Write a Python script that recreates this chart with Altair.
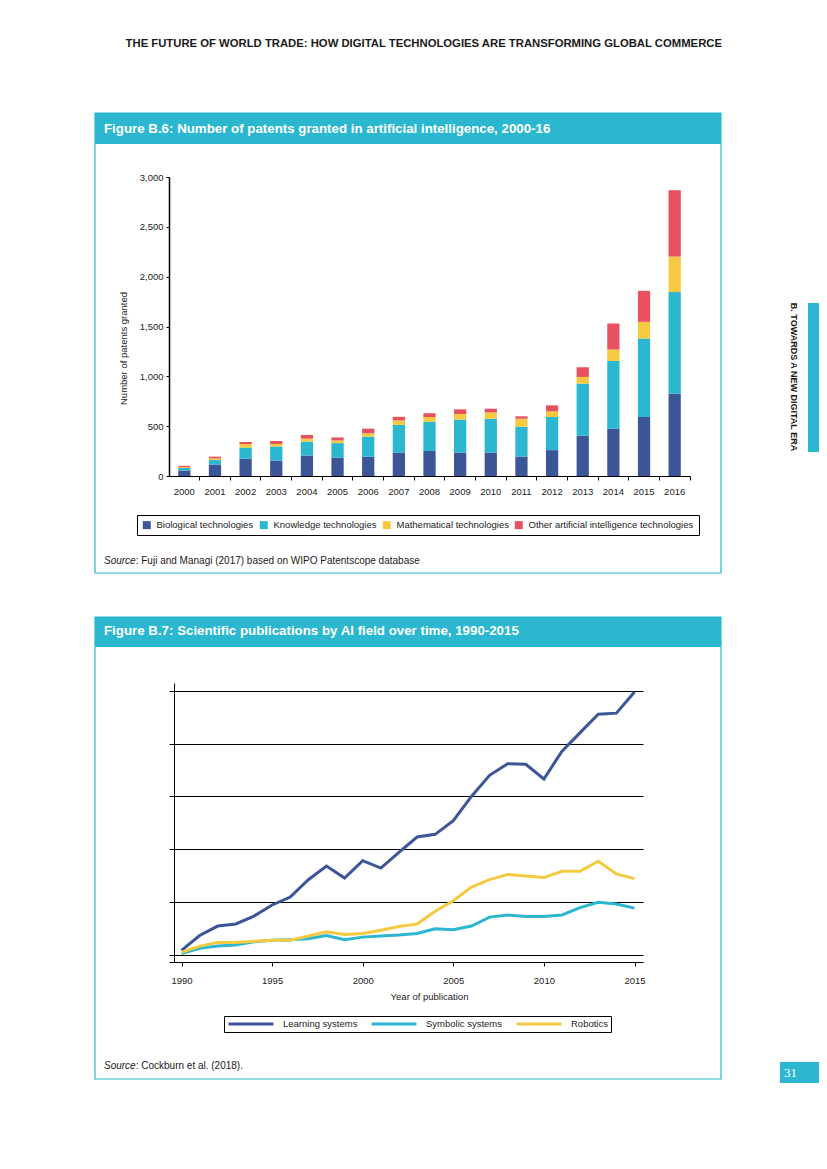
import altair as alt
import pandas as pd

# ---------------- data ----------------
years = [str(y) for y in range(2000, 2017)]
patent_types = ["Biological technologies", "Knowledge technologies",
                "Mathematical technologies", "Other artificial intelligence technologies"]
biological = [55, 115, 175, 155, 205, 185, 195, 235, 250, 235, 235, 195, 260, 405, 475, 593, 824]
knowledge = [25, 45, 110, 140, 140, 145, 200, 278, 295, 330, 340, 300, 332, 522, 680, 786, 1021]
mathematical = [10, 17, 36, 26, 30, 27, 34, 44, 47, 57, 63, 80, 57, 67, 114, 168, 358]
other_ai = [12, 17, 20, 31, 37, 30, 46, 37, 37, 47, 37, 24, 60, 97, 261, 311, 663]
y_ticks_1 = [0, 500, 1000, 1500, 2000, 2500, 3000]

pub_years = list(range(1990, 2016))
series_names = ["Learning systems", "Symbolic systems", "Robotics"]
learning = [0.08, 0.36, 0.54, 0.58, 0.73, 0.94, 1.09, 1.42, 1.68, 1.45, 1.78, 1.64, 1.94,
            2.23, 2.28, 2.54, 3.00, 3.40, 3.62, 3.61, 3.33, 3.86, 4.21, 4.56, 4.58, 4.98]
symbolic = [0.02, 0.12, 0.16, 0.18, 0.24, 0.27, 0.28, 0.30, 0.36, 0.28, 0.33, 0.35, 0.37,
            0.40, 0.49, 0.47, 0.54, 0.71, 0.75, 0.72, 0.72, 0.75, 0.89, 0.99, 0.96, 0.88]
robotics = [0.04, 0.16, 0.23, 0.23, 0.25, 0.27, 0.27, 0.35, 0.43, 0.38, 0.40, 0.46, 0.53,
            0.58, 0.82, 1.02, 1.28, 1.42, 1.52, 1.49, 1.46, 1.58, 1.58, 1.77, 1.53, 1.44]
x_ticks_2 = [1990, 1995, 2000, 2005, 2010, 2015]
y_ticks_2 = [0, 1, 2, 3, 4, 5]

# ---------------- tables ----------------
rows = []
for i, t in enumerate(patent_types):
    vals = [biological, knowledge, mathematical, other_ai][i]
    for y, v in zip(years, vals):
        rows.append({"year": y, "type": t, "count": v, "idx": i})
patents = pd.DataFrame(rows)

prow = []
for name, vals in zip(series_names, [learning, symbolic, robotics]):
    for y, v in zip(pub_years, vals):
        prow.append({"year": y, "series": name, "value": v})
pubs = pd.DataFrame(prow)

deco = pd.DataFrame({"k": [0]})

FONT = "Liberation Sans"
TEAL = "#2ab7cf"
BLUE = "#3b5596"
YELLOW = "#f5ca40"
RED = "#e8515f"


def rect(x, x2, y, y2, **kw):
    return alt.Chart(deco).mark_rect(**kw).encode(
        x=alt.value(x), x2=alt.value(x2), y=alt.value(y), y2=alt.value(y2))


def text(x, y, s, **kw):
    opts = dict(font=FONT, baseline="middle", align="left", color="#1a1a1a")
    opts.update(kw)
    return alt.Chart(deco).mark_text(text=s, **opts).encode(x=alt.value(x), y=alt.value(y))


# ---------------- figure B.6 ----------------
W1, H1 = 521, 299
bars = alt.Chart(patents).mark_bar().encode(
    x=alt.X("year:O", scale=alt.Scale(paddingInner=0.6, paddingOuter=0.3),
            axis=alt.Axis(title=None, labelAngle=0, bandPosition=1.75, tickSize=4,
                          labelPadding=6, labelFontSize=9.5, domainWidth=1.2)),
    y=alt.Y("count:Q", stack="zero", scale=alt.Scale(domain=[0, 3000], nice=False),
            axis=alt.Axis(values=y_ticks_1, format=",.0f", grid=False, tickSize=3, labelPadding=3,
                          labelFontSize=9.5, domainWidth=1.5,
                          title="Number of patents granted", titleX=-46, titleY=171,
                          titleBaseline="middle", titleFontSize=9.5, titleFontWeight="normal")),
    color=alt.Color("type:N", scale=alt.Scale(domain=patent_types, range=[BLUE, TEAL, YELLOW, RED]),
                    legend=alt.Legend(title=None, orient="none", legendX=-32, legendY=338,
                                      direction="horizontal", symbolType="square", symbolSize=64,
                                      symbolStrokeWidth=0, labelFontSize=9.5, labelFont=FONT,
                                      labelColor="#222222", labelOffset=5, columnPadding=5,
                                      labelLimit=400, padding=5, strokeColor="black")),
    order=alt.Order("idx:Q"),
)

chart1 = alt.layer(
    rect(-161, 650, -169, 413, fill="white", fillOpacity=0),
    rect(-74, 552, -64, 396, fillOpacity=0, stroke=TEAL, strokeWidth=1.2),
    rect(-74, 552, -64, -33, fill=TEAL),
    text(553, -133, "THE FUTURE OF WORLD TRADE: HOW DIGITAL TECHNOLOGIES ARE TRANSFORMING GLOBAL COMMERCE",
         align="right", fontSize=11.3, fontWeight="bold"),
    text(-65, -48, "Figure B.6: Number of patents granted in artificial intelligence, 2000-16",
         fontSize=13.3, fontWeight="bold", color="white"),
    rect(639, 650, 126, 275, fill=TEAL),
    text(625, 200, "B. TOWARDS A NEW DIGITAL ERA", align="center", angle=90, fontSize=9,
         fontWeight="bold"),
    bars,
    text(-65, 384, "Source", fontSize=10, fontStyle="italic"),
    text(-33.3, 384, ": Fuji and Managi (2017) based on WIPO Patentscope database", fontSize=10),
).properties(width=W1, height=H1)

# ---------------- figure B.7 ----------------
W2, H2 = 474, 279
lines = alt.Chart(pubs).mark_line(strokeWidth=3).encode(
    x=alt.X("year:Q", scale=alt.Scale(domain=[1989.310, 2015.469], nice=False, zero=False),
            axis=alt.Axis(values=x_ticks_2, format="d", grid=False, tickSize=4, labelPadding=9,
                          labelFontSize=9.5, title="Year of publication", titleX=260, titleY=34,
                          titleBaseline="middle", titleFontSize=9.5, titleFontWeight="normal")),
    y=alt.Y("value:Q", scale=alt.Scale(domain=[-0.142, 5.152], nice=False, zero=False),
            axis=alt.Axis(values=y_ticks_2, labels=False, grid=True, gridColor="black",
                          gridWidth=1, gridOpacity=1, tickSize=4, offset=-5, title=None)),
    color=alt.Color("series:N", scale=alt.Scale(domain=series_names, range=[BLUE, TEAL, YELLOW]),
                    legend=alt.Legend(title=None, orient="none", legendX=55, legendY=333,
                                      direction="horizontal", symbolType="stroke", symbolSize=2025,
                                      symbolStrokeWidth=3, clipHeight=10, labelFontSize=9.5,
                                      labelFont=FONT, labelColor="#222222", labelOffset=8,
                                      columnPadding=12, padding=3, strokeColor="black")),
)

chart2 = alt.layer(
    rect(-161, 650, -93, 447, fill="white", fillOpacity=0),
    rect(-74, 552, -66, 396, fillOpacity=0, stroke=TEAL, strokeWidth=1.2),
    rect(-74, 552, -66, -36, fill=TEAL),
    text(-65, -52, "Figure B.7: Scientific publications by AI field over time, 1990-2015",
         fontSize=13.3, fontWeight="bold", color="white"),
    lines,
    text(-65, 383, "Source", fontSize=10, fontStyle="italic"),
    text(-33.3, 383, ": Cockburn et al. (2018).", fontSize=10),
    rect(611, 650, 379, 400, fill=TEAL),
    text(615, 390, "31", font="Liberation Serif", fontSize=13, color="white"),
).properties(width=W2, height=H2)

chart = alt.vconcat(chart1, chart2, spacing=0).resolve_scale(
    color="independent").resolve_legend(color="independent").properties(
    padding=0, background="white").configure_view(strokeWidth=0).configure_axis(
    labelFont=FONT, titleFont=FONT, labelColor="#222222", titleColor="#222222",
    domainColor="black", tickColor="black")

chart.save("out.html", embed_options={"renderer": "svg", "actions": False})
